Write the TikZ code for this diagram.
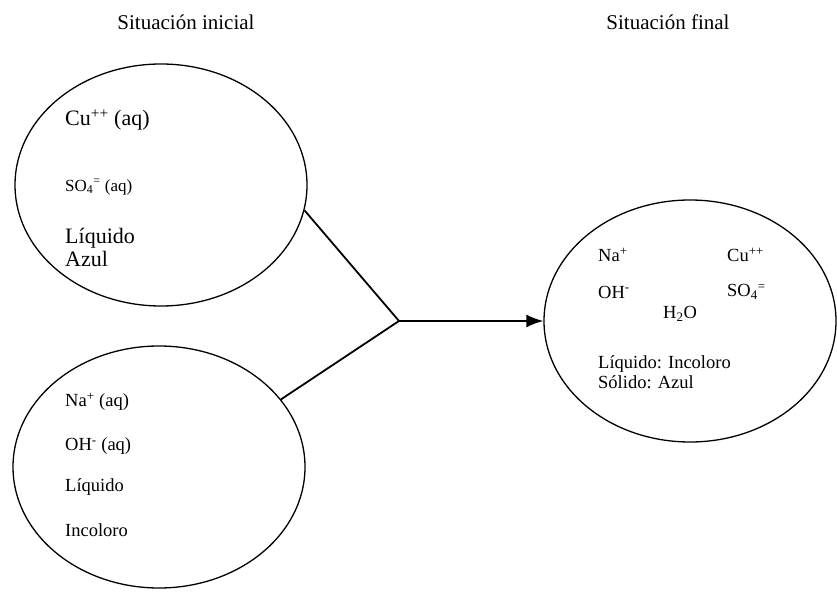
\documentclass[tikz,border=0pt]{standalone}
\usepackage{fontspec}
\setmainfont{Liberation Serif}
\usetikzlibrary{shapes.geometric, arrows.meta, positioning}

\begin{document}
\begin{tikzpicture}[
    x=1pt, y=-1pt,
    bubble/.style={draw, ellipse, line width=1.3pt, minimum width=292pt, minimum height=242pt, inner sep=0pt},
    lbl/.style={anchor=west, inner sep=0pt, align=left},
    big/.style={font=\fontsize{22}{23}\selectfont},
    mid/.style={font=\fontsize{18.5}{20}\selectfont},
    sml/.style={font=\fontsize{17}{19}\selectfont},
    ttl/.style={font=\fontsize{21}{24}\selectfont, inner sep=0pt},
    link/.style={line width=1.8pt},
    arrow/.style={-{Latex[length=17pt, width=13pt]}, line width=1.8pt}
]
\useasboundingbox (0,0) rectangle (837,593);

% titles
\node[ttl] (tini) at (186,22) {Situación inicial};
\node[ttl] (tfin) at (668,22) {Situación final};

% ellipses
\node[bubble] (cuso) at (161,185) {};
\node[bubble] (naoh) at (159,467) {};
\node[bubble] (fin) at (690,321) {};

% initial solution: copper sulfate
\node[lbl, big] (cu) at (65,120) {Cu\textsuperscript{++} (aq)};
\node[lbl, sml] (so) at (65,187) {SO\textsubscript{4}\textsuperscript{=} (aq)};
\node[lbl, big] (liqa) at (65,247) {Líquido\\Azul};

% initial solution: sodium hydroxide
\node[lbl, mid] (na) at (65,402) {Na\textsuperscript{+} (aq)};
\node[lbl, mid] (oh) at (65,446) {OH\textsuperscript{-} (aq)};
\node[lbl, mid] (liqb) at (65,487) {Líquido};
\node[lbl, mid] (inc) at (65,530) {Incoloro};

% final situation
\node[lbl, mid] (fna) at (598,255) {Na\textsuperscript{+}};
\node[lbl, mid] (fcu) at (727,255) {Cu\textsuperscript{++}};
\node[lbl, mid] (foh) at (598,292) {OH\textsuperscript{-}};
\node[lbl, mid] (fso) at (727,292) {SO\textsubscript{4}\textsuperscript{=}};
\node[lbl, mid] (fh) at (663,314) {H\textsubscript{2}O};
\node[lbl, mid] (fst) at (598,372) {Líquido: Incoloro\\Sólido: Azul};

% connectors
\coordinate (j) at (399,321);
\draw[link] (cuso.-10) -- (j);
\draw[link] (naoh.29) -- (j);
\draw[arrow] (j) -- (fin.west);

\end{tikzpicture}
\end{document}
